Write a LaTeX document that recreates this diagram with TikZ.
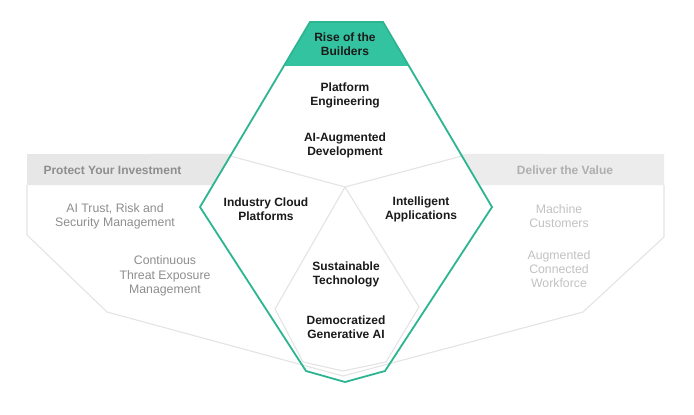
\documentclass[tikz,border=0pt]{standalone}
\usepackage{fontspec}
\setmainfont{Liberation Sans}
\usetikzlibrary{calc}
\definecolor{teal1}{HTML}{34C3A0}
\definecolor{teal2}{HTML}{2DB591}
\definecolor{band}{HTML}{E7E7E7}
\definecolor{gline}{HTML}{E4E4E4}
\definecolor{dtext}{HTML}{1A1A1A}
\definecolor{ltext}{HTML}{8E8E8E}
\definecolor{rtext}{HTML}{C2C2C2}
\begin{document}
\begin{tikzpicture}[x=1pt,y=-1pt,
  trend/.style={font=\bfseries\fontsize{12}{14}\selectfont, text=dtext, align=center},
  ltrend/.style={font=\fontsize{12.3}{14.2}\selectfont, text=ltext, align=center},
  rtrend/.style={font=\fontsize{12.3}{14.2}\selectfont, text=rtext, align=center},
  gray line/.style={draw=gline, line width=1.1pt, line join=round},
  teal line/.style={draw=teal2, line width=1.8pt, line join=miter}]
\useasboundingbox[fill=white] (0,0) rectangle (694,415);
% key points
\coordinate (T1) at (310,22);
\coordinate (T2) at (383,22);
\coordinate (R) at (492,207);
\coordinate (BR) at (385,371);
\coordinate (B) at (345,382);
\coordinate (BL) at (306,371);
\coordinate (L) at (200,207);
\coordinate (C) at (345,187);
% bands
\fill[band] (27,154) -- ($(T1)!132/185!(L)$) -- ($(T1)!163/185!(L)$) -- (27,185) -- cycle;
\fill[band!80!white] ($(T2)!132/185!(R)$) -- (664,154) -- (664,185) -- ($(T2)!163/185!(R)$) -- cycle;
% gray outlines
\draw[gray line] (27,185) -- (27,235) -- (107,312) -- (343,376);
\draw[gray line] (664,185) -- (664,237) -- (583,312) -- (343,376);
\draw[gray line] ($(T1)!134/185!(L)$) -- (C) -- ($(T2)!134/185!(R)$);
\draw[gray line] (C) -- (275,309) -- (303,362) -- (343,371) -- (386,362) -- (419,307) -- cycle;
% teal
\fill[teal1] (T1) -- (T2) -- ($(T2)!44/185!(R)$) -- ($(T1)!44/185!(L)$) -- cycle;
\draw[teal line] (T1) -- (T2) -- (R) -- (BR) -- (B) -- (BL) -- (L) -- cycle;
% texts
\node[trend] (rise) at (345,44) {Rise of the\\Builders};
\node[trend] (pe) at (345,95) {Platform\\Engineering};
\node[trend] (aiad) at (345,145) {AI-Augmented\\Development};
\node[trend] (icp) at (266,209) {Industry Cloud\\Platforms};
\node[trend] (ia) at (421,209) {Intelligent\\Applications};
\node[trend] (st) at (346,274) {Sustainable\\Technology};
\node[trend] (dg) at (346,327) {Democratized\\Generative AI};
\node[font=\bfseries\fontsize{12}{14}\selectfont, text=ltext, anchor=west] (pyi) at (40,170.5) {Protect Your Investment};
\node[ltrend] (trism) at (115,216) {AI Trust, Risk and\\Security Management};
\node[ltrend] (ctem) at (165,276) {Continuous\\Threat Exposure\\Management};
\node[font=\bfseries\fontsize{12}{14}\selectfont, text=rtext!90!black] (dtv) at (565,170.5) {Deliver the Value};
\node[rtrend] (mc) at (559,216) {Machine\\Customers};
\node[rtrend] (acw) at (559,269) {Augmented\\Connected\\Workforce};
\end{tikzpicture}
\end{document}
